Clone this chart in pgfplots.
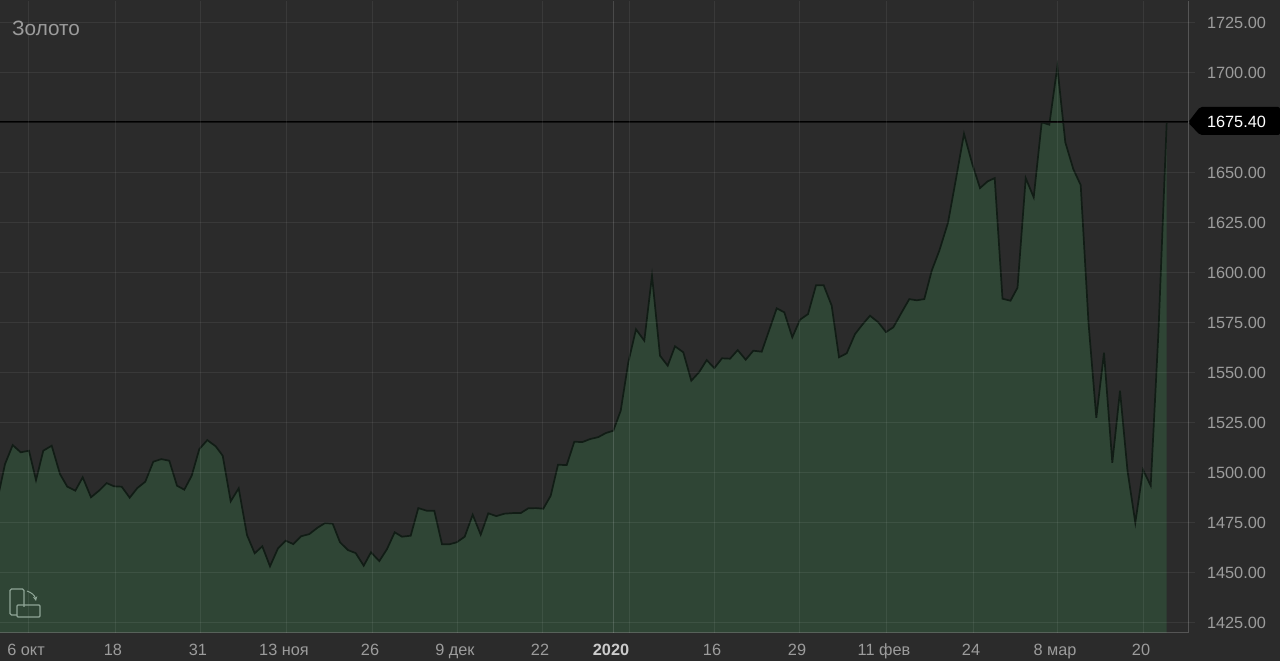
\documentclass[border=0pt]{standalone}
\usepackage{fontspec}
\setmainfont{Liberation Sans}
\usepackage{pgfplots}
\usepackage{pgfplotstable}
\pgfplotsset{compat=1.18}
\definecolor{bg}{HTML}{2B2B2B}
\definecolor{areaG}{HTML}{2F4535}
\definecolor{lineG}{HTML}{111C15}
\definecolor{txt}{HTML}{9C9C9C}
\definecolor{iconc}{HTML}{8FA596}
% x in screen pixels, y = price
\pgfplotstableread{
x p
-2.8 1486
5 1504.3
12.7 1513.8
20.7 1510.2
29 1511
36 1496.3
43.3 1511
51.7 1513.5
60 1499.3
67.3 1493
75.3 1491
82.7 1497.7
91 1487.7
99 1491
106.7 1494.8
114 1493.2
121.7 1493
129.7 1487.5
137.3 1492.3
145.3 1495.5
153.3 1505.5
161.3 1506.8
169.3 1506
177 1493.5
184.3 1491.5
191.7 1498.5
199.3 1511.8
207.3 1516.3
215.7 1513.2
222.7 1508.5
230.7 1485.7
238.7 1492.2
247 1468.8
254.7 1459.7
262.3 1463.2
270 1453.2
278 1462.2
285.7 1466
293.3 1464.3
301 1468.2
309.3 1469.3
317.5 1472.5
325 1474.8
332.7 1474.5
340 1465.2
348 1461.3
355.7 1459.8
363.7 1453.5
371 1460.2
379.3 1455.8
387 1461.8
394.7 1470.2
402 1468
410.7 1468.5
418.3 1482.3
426.7 1481
434.3 1481
442 1464.2
449.3 1464.2
456.7 1465.2
464.7 1468
472.7 1479
480.7 1469
488.3 1479.7
496.3 1478.3
504.3 1479.5
512.7 1479.8
520.7 1479.8
528.3 1482.2
536 1482.3
543.3 1482
550.7 1488.5
558 1504
566.7 1503.8
574.3 1515.5
582.3 1515.3
590 1516.8
598.3 1517.8
605.7 1519.8
613.3 1521
620.7 1531
628.3 1555.2
636 1571.7
644.3 1566
652 1598.5
660 1558.5
667.7 1553.5
675 1563.2
683.3 1560.2
691.3 1546
699 1550.2
706.7 1556.3
714.3 1552.3
722 1557.2
730 1557
737.7 1561.3
745.7 1556.5
753.3 1561
761.7 1560.5
769 1571
776.7 1582.2
784.3 1580.2
792.3 1567.7
800 1576.5
808 1579.3
816 1593.7
823.7 1593.7
831.7 1583.5
839 1557.7
846.7 1559.7
855 1569.3
862.3 1574
870 1578.5
878.3 1575.2
886 1570.3
893.3 1572.7
901.7 1580.2
909.3 1586.8
916.7 1586.2
924.3 1586.8
931.7 1601
939.3 1611
948 1625
956 1647
964 1669.5
972.3 1654.3
980 1642.3
987.7 1645.7
994.7 1647.3
1002.5 1587
1010.5 1586
1017.5 1592.5
1025.7 1647.3
1033.7 1637.7
1041.7 1675.2
1049.3 1674
1057.3 1703
1065.3 1665.2
1073.3 1651.8
1080.7 1643.8
1088.5 1575
1096.3 1527.5
1104 1560
1112.3 1505
1120 1541
1127.5 1501
1135.3 1475
1143 1501.5
1150.7 1493.5
1158.5 1571
1166.7 1675.4
}\gold
\begin{document}
\begin{tikzpicture}[x=1pt,y=1pt]
\path[use as bounding box] (0,-29) rectangle (1280,632);
\fill[bg] (-5,-35) rectangle (1285,640);
\begin{axis}[
    at={(-3pt,-0.7pt)}, anchor=south west,
    scale only axis,
    width=1191pt, height=632pt,
    xmin=-3, xmax=1188, ymin=1420, ymax=1736,
    axis x line*=bottom, axis y line*=right,
    axis line style={-,draw=white,draw opacity=0.2,line width=0.9pt},
    axis on top,
    xtick={28,115,200,286,372,457,542,629,714,799,886,973,1057,1143},
    xticklabels={6 окт,18,31,13 ноя,26,9 дек,22,,16,29,11 фев,24,8 мар,20},
    extra x ticks={613},
    extra x tick labels={\textcolor{white!80!black}{\bfseries 2020}},
    extra x tick style={grid style={draw=white,draw opacity=0.15,line width=1pt}},
    ytick={1425,1450,...,1725},
    xmajorgrids, ymajorgrids,
    grid style={draw=white,draw opacity=0.07,line width=1pt},
    x tick style={draw=none},
    y tick style={draw=white,draw opacity=0.07,line width=1pt},
    tick align=outside,
    major tick length=7pt,
    tick label style={font=\fontsize{16.3}{18}\selectfont,text=txt},
    xticklabel style={xshift=-2pt,yshift=-0.5pt,text height=12pt,text depth=3.5pt},
    yticklabel style={xshift=8.5pt},
    /pgf/number format/assume math mode=true,
    /pgf/number format/fixed,
    /pgf/number format/fixed zerofill,
    /pgf/number format/precision=2,
    /pgf/number format/1000 sep={},
]
\addplot[draw=none,fill=areaG] table[x=x,y=p] {\gold} \closedcycle;
\addplot[draw=lineG,line width=1.7pt,line join=miter] table[x=x,y=p] {\gold};
\addplot[draw=black,line width=2pt] coordinates {(-3,1675.4) (1188,1675.4)};
\end{axis}
% current price tag
\fill[black,rounded corners=2pt] (1188,509.5) -- (1200,525) -- (1280,525) -- (1280,497) -- (1200,497) -- cycle;
\node[anchor=center,text=white,font=\fontsize{16.3}{18}\selectfont] at (1236.5,510) {1675.40};
\node[anchor=west,inner sep=0pt,text=txt,font=\fontsize{20.7}{22}\selectfont] at (12,604) {Золото};
% rotate icon
\draw[iconc,line width=1.1pt,rounded corners=1.5pt] (24,25) -- (24,43) -- (10,43) -- (10,17) -- (17,17);
\draw[iconc,line width=1.1pt,rounded corners=1pt] (17,15) rectangle (40,27);
\draw[iconc,line width=1pt,->,>=stealth] (27,41) to[bend left=30] (36,31);
\end{tikzpicture}
\end{document}
